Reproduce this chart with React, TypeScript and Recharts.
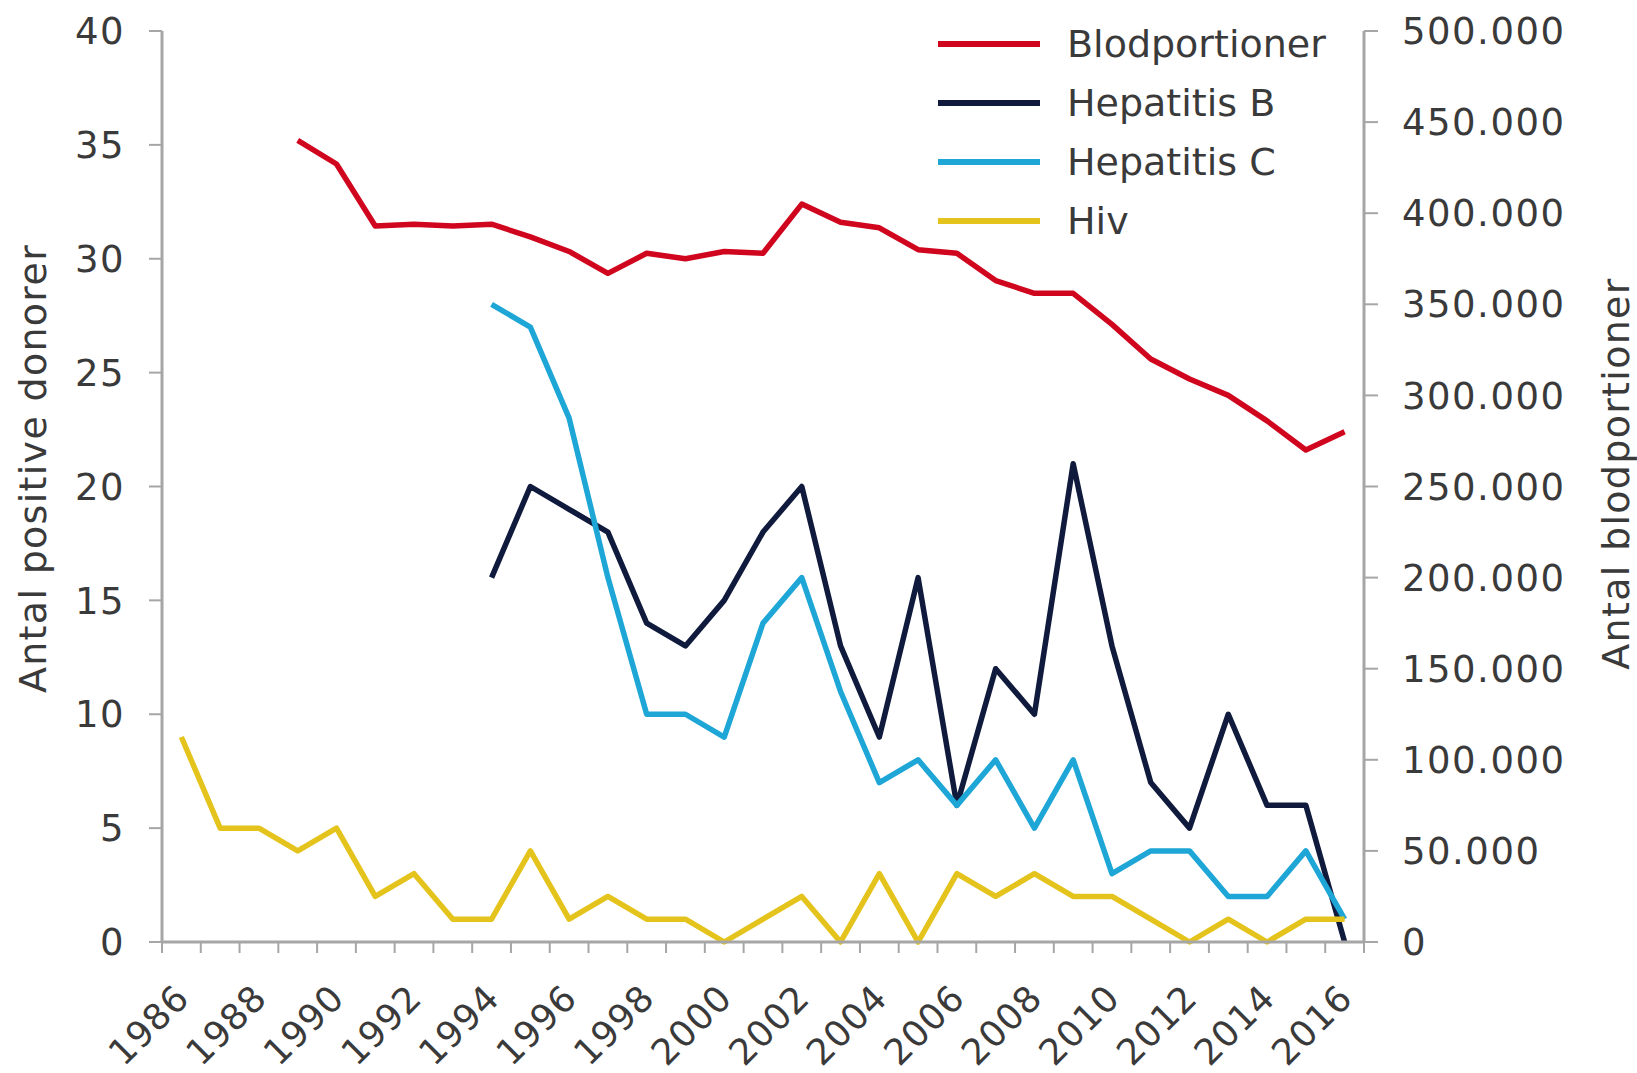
import { LineChart, Line, XAxis, YAxis, Legend } from 'recharts';

const years = [
  '1986', '1987', '1988', '1989', '1990', '1991', '1992', '1993', '1994', '1995', '1996',
  '1997', '1998', '1999', '2000', '2001', '2002', '2003', '2004', '2005', '2006',
  '2007', '2008', '2009', '2010', '2011', '2012', '2013', '2014', '2015', '2016',
];

// right axis
const blodportioner = [
  null, null, null, 440000, 427000, 393000, 394000, 393000, 394000, 387000, 379000,
  367000, 378000, 375000, 379000, 378000, 405000, 395000, 392000, 380000, 378000,
  363000, 356000, 356000, 339000, 320000, 309000, 300000, 286000, 270000, 280000,
];

const hepatitisB = [
  null, null, null, null, null, null, null, null, 16, 20, 19,
  18, 14, 13, 15, 18, 20, 13, 9, 16, 6,
  12, 10, 21, 13, 7, 5, 10, 6, 6, 0,
];

const hepatitisC = [
  null, null, null, null, null, null, null, null, 28, 27, 23,
  16, 10, 10, 9, 14, 16, 11, 7, 8, 6,
  8, 5, 8, 3, 4, 4, 2, 2, 4, 1,
];

const hiv = [
  9, 5, 5, 4, 5, 2, 3, 1, 1, 4, 1,
  2, 1, 1, 0, 1, 2, 0, 3, 0, 3,
  2, 3, 2, 2, 1, 0, 1, 0, 1, 1,
];

const leftTicks = [0, 5, 10, 15, 20, 25, 30, 35, 40];
const rightTicks = [0, 50000, 100000, 150000, 200000, 250000, 300000, 350000, 400000, 450000, 500000];

const data = years.map((year, i) => ({
  year,
  blod: blodportioner[i],
  hepB: hepatitisB[i],
  hepC: hepatitisC[i],
  hiv: hiv[i],
}));

const series = [
  { key: 'blod', name: 'Blodportioner', color: '#d0061f', axis: 'right' },
  { key: 'hepB', name: 'Hepatitis B', color: '#101a3c', axis: 'left' },
  { key: 'hepC', name: 'Hepatitis C', color: '#1ea6d6', axis: 'left' },
  { key: 'hiv', name: 'Hiv', color: '#e4c41c', axis: 'left' },
];

const W = 1637;
const H = 1073;
const LEFT_W = 162;
const RIGHT_W = 273;
// each year gets an equal slot; tick marks go on the slot edges
const STEP = (W - LEFT_W - RIGHT_W) / years.length;

const FONT = '"DejaVu Sans", Verdana, sans-serif';
const TEXT = '#3a3a3a';
const AXIS = '#a6a6a6';

const fmtThousands = (v: number) => String(v).replace(/\B(?=(\d{3})+(?!\d))/g, '.');

function YearTick({ x, y, payload, index }: any) {
  const half = STEP / 2;
  return (
    <g>
      {index === 0 && <line x1={x - half} x2={x - half} y1={y} y2={y + 11} stroke={AXIS} strokeWidth={2} />}
      <line x1={x + half} x2={x + half} y1={y} y2={y + 11} stroke={AXIS} strokeWidth={2} />
      {index % 2 === 0 && (
        <g transform={`translate(${x + 10},${y + 58})`}>
          <text
            textAnchor="end"
            transform="rotate(-45)"
            fontSize={36}
            fontFamily={FONT}
            fill={TEXT}
            letterSpacing={1}
          >
            {payload.value}
          </text>
        </g>
      )}
    </g>
  );
}

function AxisTitle({ viewBox, value, dx, dy }: any) {
  const cx = viewBox.x + dx;
  const cy = viewBox.y + viewBox.height / 2 + dy;
  return (
    <text
      x={cx}
      y={cy}
      transform={`rotate(-90, ${cx}, ${cy})`}
      textAnchor="middle"
      fontSize={38}
      fontFamily={FONT}
      fill={TEXT}
      letterSpacing={1.3}
    >
      {value}
    </text>
  );
}

function LegendBox() {
  return (
    <div style={{ fontFamily: FONT, fontSize: 38, color: TEXT }}>
      {series.map((s) => (
        <div key={s.key} style={{ display: 'flex', alignItems: 'center', height: 59 }}>
          <div style={{ width: 102, height: 6, background: s.color, marginRight: 27 }} />
          <span>{s.name}</span>
        </div>
      ))}
    </div>
  );
}

const tickStyle = { fontSize: 37, fontFamily: FONT, fill: TEXT, letterSpacing: 1.5 };

export default function App() {
  return (
    <div style={{ position: 'absolute', left: 0, top: 0, width: W, height: H, background: '#fff' }}>
      <LineChart
        width={W}
        height={H}
        data={data}
        margin={{ top: 31, right: 0, bottom: 0, left: 0 }}
      >
        <XAxis
          dataKey="year"
          interval={0}
          height={131}
          padding={{ left: STEP / 2, right: STEP / 2 }}
          tick={<YearTick />}
          tickLine={false}
          tickSize={0}
          tickMargin={0}
          axisLine={{ stroke: AXIS, strokeWidth: 3 }}
        />
        <YAxis
          yAxisId="left"
          domain={[0, 40]}
          ticks={leftTicks}
          width={LEFT_W}
          tick={tickStyle}
          tickLine={{ stroke: AXIS, strokeWidth: 2 }}
          tickSize={13}
          tickMargin={24}
          axisLine={{ stroke: AXIS, strokeWidth: 3 }}
          label={(props: any) => <AxisTitle {...props} value="Antal positive donorer" dx={46} dy={-18} />}
        />
        <YAxis
          yAxisId="right"
          orientation="right"
          domain={[0, 500000]}
          ticks={rightTicks}
          width={RIGHT_W}
          tickFormatter={fmtThousands}
          tick={tickStyle}
          tickLine={{ stroke: AXIS, strokeWidth: 2 }}
          tickSize={14}
          tickMargin={24}
          axisLine={{ stroke: AXIS, strokeWidth: 3 }}
          label={(props: any) => <AxisTitle {...props} value="Antal blodportioner" dx={265} dy={-13} />}
        />
        <Legend
          layout="vertical"
          align="center"
          verticalAlign="middle"
          content={() => <LegendBox />}
          wrapperStyle={{ left: 938, top: 14, width: 430, height: 240 }}
        />
        {series.map((s) => (
          <Line
            key={s.key}
            yAxisId={s.axis}
            dataKey={s.key}
            name={s.name}
            type="linear"
            stroke={s.color}
            strokeWidth={5.5}
            strokeLinejoin="round"
            dot={false}
            activeDot={false}
            isAnimationActive={false}
          />
        ))}
      </LineChart>
    </div>
  );
}
